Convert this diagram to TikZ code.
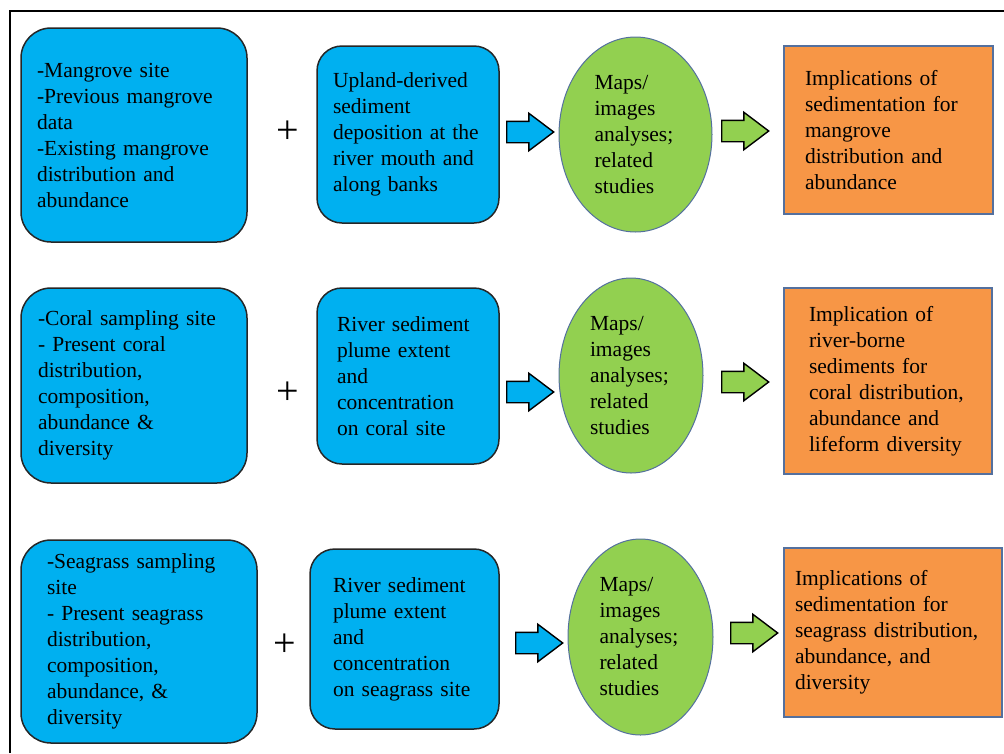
\documentclass[tikz,border=0pt]{standalone}
\usepackage{fontspec}
\setmainfont{Liberation Serif}
\usepackage{xcolor}
\usepackage{tikz}
\usetikzlibrary{shapes.geometric, shapes.arrows}

\definecolor{boxblue}{RGB}{0,176,240}
\definecolor{ovalgreen}{RGB}{146,208,80}
\definecolor{resorange}{RGB}{247,150,70}
\definecolor{edgeblue}{RGB}{84,112,158}

\begin{document}
\begin{tikzpicture}[
    x=1pt, y=-1pt,
    every node/.style={font=\fontsize{21.5pt}{26pt}\selectfont},
    bluebox/.style={draw=black!85, line width=1.5pt, fill=boxblue, align=left, inner sep=0pt},
    sitebox/.style={bluebox, rounded corners=30pt},
    sedbox/.style={bluebox, rounded corners=25pt},
    studyoval/.style={ellipse, draw=edgeblue, line width=1pt, fill=ovalgreen, align=left, inner sep=0pt, text width=82pt},
    resultbox/.style={draw=edgeblue, line width=1.5pt, fill=resorange, align=left, inner sep=0pt},
    plussign/.style={font=\fontsize{40pt}{40pt}\selectfont, inner sep=0pt},
    blockarrow/.style={single arrow, draw=black, line width=1.4pt, inner xsep=0pt, inner ysep=10pt,
        minimum height=47pt, minimum width=36pt, anchor=tail,
        single arrow head extend=8pt, single arrow tip angle=74},
]
\useasboundingbox (0,0) rectangle (1004,753);

% Frame
\coordinate (fbl) at (10,753);
\coordinate (ftl) at (10,11);
\coordinate (ftr) at (1004,11);
\draw[line width=2pt] (fbl) -- (ftl) -- (ftr);

% Row 1: mangrove
\node[sitebox, minimum width=226pt, minimum height=214pt, text width=194pt] (site1) at (134,135)
    {-Mangrove site\\-Previous mangrove\\data\\-Existing mangrove\\distribution and\\abundance};
\node[sedbox, minimum width=182pt, minimum height=177pt, text width=150pt] (sed1) at (408,134.5)
    {Upland-derived\\sediment\\deposition at the\\river mouth and\\along banks};
\node[studyoval, minimum width=153pt, minimum height=195pt] (oval1) at (635.5,134.5)
    {Maps/\\images\\analyses;\\related\\studies};
\node[resultbox, minimum width=209pt, minimum height=168pt, text width=167pt] (res1) at (888.5,130)
    {Implications of\\sedimentation for\\mangrove\\distribution and\\abundance};

% Row 2: coral
\node[sitebox, minimum width=226pt, minimum height=195pt, text width=192pt] (site2) at (134,385.5)
    {-Coral sampling site\\- Present coral\\distribution,\\composition,\\abundance \&\\diversity};
\node[sedbox, minimum width=182pt, minimum height=176pt, text width=142pt] (sed2) at (408,376)
    {River sediment\\plume extent\\and\\concentration\\on coral site};
\node[studyoval, minimum width=144pt, minimum height=195pt] (oval2) at (631,375.5)
    {Maps/\\images\\analyses;\\related\\studies};
\node[resultbox, minimum width=208pt, minimum height=186pt, text width=158pt] (res2) at (888,381)
    {Implication of\\river-borne\\sediments for\\coral distribution,\\abundance and\\lifeform diversity};

% Row 3: seagrass
\node[sitebox, minimum width=236pt, minimum height=203pt, text width=184pt] (site3) at (139,641.5)
    {-Seagrass sampling\\site\\- Present seagrass\\distribution,\\composition,\\abundance, \&\\diversity};
\node[sedbox, minimum width=189pt, minimum height=180pt, text width=143pt] (sed3) at (404.5,639)
    {River sediment\\plume extent\\and\\concentration\\on seagrass site};
\node[studyoval, minimum width=145pt, minimum height=196pt] (oval3) at (640.5,637)
    {Maps/\\images\\analyses;\\related\\studies};
\node[resultbox, minimum width=218pt, minimum height=169pt, text width=196pt] (res3) at (893,632.5)
    {Implications of\\sedimentation for\\seagrass distribution,\\abundance, and\\diversity};

% Plus signs
\foreach \n/\px/\py in {1/288/132, 2/288/393, 3/285/645} {
    \node[plussign] (plus\n) at (\px,\py) {+};
}

% Block arrows
\foreach \n/\px/\py in {1/506/132, 2/506/392, 3/515/643} {
    \node[blockarrow, fill=boxblue] (toval\n) at (\px,\py) {};
}
\foreach \n/\px/\py in {1/721/131, 2/721/382, 3/730/633} {
    \node[blockarrow, fill=ovalgreen] (tores\n) at (\px,\py) {};
}

\end{tikzpicture}
\end{document}
